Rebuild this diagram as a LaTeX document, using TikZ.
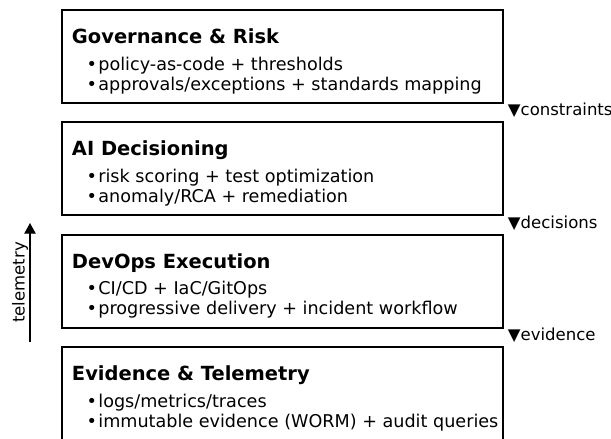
\documentclass[tikz,border=0pt]{standalone}
\usepackage{fontspec}
\setmainfont{DejaVu Sans}
\usetikzlibrary{arrows.meta}

% bullet item and layer heading
\newcommand{\itm}{\hspace*{14.85pt}\makebox[0pt]{•}\hspace*{4.95pt}}
\newcommand{\ttl}[1]{{\fontsize{14.6}{18}\selectfont\bfseries #1}}

\begin{document}
\begin{tikzpicture}[
  x=0.75pt, y=-0.75pt, >={Triangle[length=8pt, width=8.5pt]},
  font=\fontsize{12.4}{14.5}\selectfont,
  layer/.style={draw, line width=1.5pt, anchor=north west, outer sep=0pt, inner sep=0pt,
                minimum width=330.75pt, minimum height=69.75pt},
  body/.style={align=left, anchor=base west, inner sep=0pt,
               font=\fontsize{13.2}{15}\selectfont},
  flow/.style={anchor=base west, inner sep=0pt}]
  \useasboundingbox (0,0) rectangle (611,439);
  % the four layers, top to bottom
  \node[layer] (gov) at (61.7,10)    {};
  \node[layer] (ai)  at (61.7,122.3) {};
  \node[layer] (ops) at (61.7,234.7) {};
  \node[layer] (ev)  at (61.7,347)   {};
  % layer contents (base = last bullet line)
  \node[body] (gov-t) at ([shift={(10,80)}]gov.north west)
    {\ttl{Governance \& Risk}\\[5pt] \itm policy-as-code + thresholds\\ \itm approvals/exceptions + standards mapping};
  \node[body] (ai-t) at ([shift={(10,80)}]ai.north west)
    {\ttl{AI Decisioning}\\[5pt] \itm risk scoring + test optimization\\ \itm anomaly/RCA + remediation};
  \node[body] (ops-t) at ([shift={(10,80)}]ops.north west)
    {\ttl{DevOps Execution}\\[5pt] \itm CI/CD + IaC/GitOps\\ \itm progressive delivery + incident workflow};
  \node[body] (ev-t) at ([shift={(10,80)}]ev.north west)
    {\ttl{Evidence \& Telemetry}\\[5pt] \itm logs/metrics/traces\\ \itm immutable evidence (WORM) + audit queries};
  % what flows down between layers
  \node[flow] (f1) at ([shift={(5,12.7)}]gov.south east) {▼constraints};
  \node[flow] (f2) at ([shift={(5,12.7)}]ai.south east)  {▼decisions};
  \node[flow] (f3) at ([shift={(5,12.7)}]ops.south east) {▼evidence};
  % telemetry going back up
  \coordinate (tm-s) at (30,342);
  \coordinate (tm-e) at (30,223);
  \draw[->, line width=1pt] (tm-s) -- node[above, sloped, inner sep=1pt] (tm-l) {telemetry} (tm-e);
\end{tikzpicture}
\end{document}
